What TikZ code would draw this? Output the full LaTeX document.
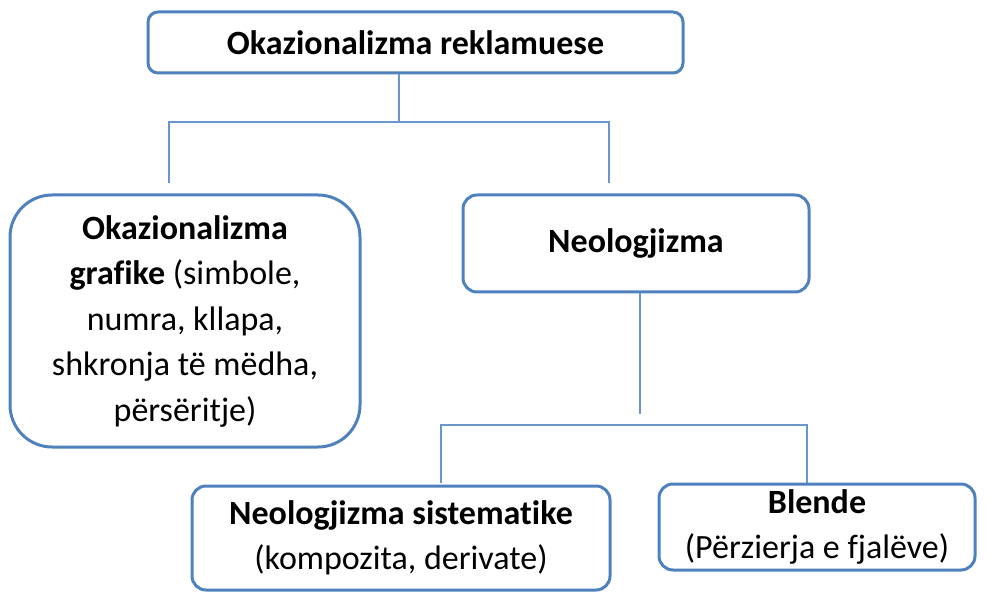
\documentclass[tikz,border=0pt]{standalone}
\usepackage{fontspec}
\setmainfont{Carlito}[Ligatures=NoCommon]
\definecolor{boxblue}{HTML}{4F81BD}
\definecolor{lineblue}{HTML}{6B96CB}
\begin{document}
\begin{tikzpicture}[x=1pt,y=-1pt,
  box/.style={draw=boxblue, line width=3pt, fill=white, align=center, inner sep=0pt,
    font=\fontsize{34}{45.5}\selectfont},
  conn/.style={draw=lineblue, line width=2.2pt}]
\useasboundingbox (0,0) rectangle (987,593);
\node[box, minimum width=535, minimum height=61, rounded corners=10] (top) at (415.5,42.5)
  {\bfseries Okazionalizma reklamuese};
\node[box, minimum width=350, minimum height=252, rounded corners=42] (graf) at (185,321)
  {\bfseries Okazionalizma\\ {\bfseries grafike} (simbole,\\ numra, kllapa,\\ shkronja të mëdha,\\ përsëritje)};
\node[box, minimum width=346, minimum height=97, rounded corners=14] (neo) at (636,243.5)
  {\bfseries Neologjizma};
\node[box, minimum width=418, minimum height=104, rounded corners=14] (sis) at (401,538)
  {\bfseries Neologjizma sistematike\\ (kompozita, derivate)};
\node[box, minimum width=316, minimum height=86, rounded corners=14] (blend) at (817,527)
  {\bfseries Blende\\ (Përzierja e fjalëve)};
\coordinate (j1) at (399,122);
\coordinate (l1) at (169,183);
\coordinate (r1) at (609,183);
\coordinate (j2) at (640,414);
\coordinate (h2) at (640,425);
\coordinate (l2) at (441,483);
\coordinate (r2) at (807,483);
\draw[conn] (top.south -| j1) -- (j1);
\draw[conn] (l1) -- (l1 |- j1) -- (r1 |- j1) -- (r1);
\draw[conn] (neo.south -| j2) -- (j2);
\draw[conn] (l2) -- (l2 |- h2) -- (r2 |- h2) -- (r2);
\end{tikzpicture}
\end{document}
